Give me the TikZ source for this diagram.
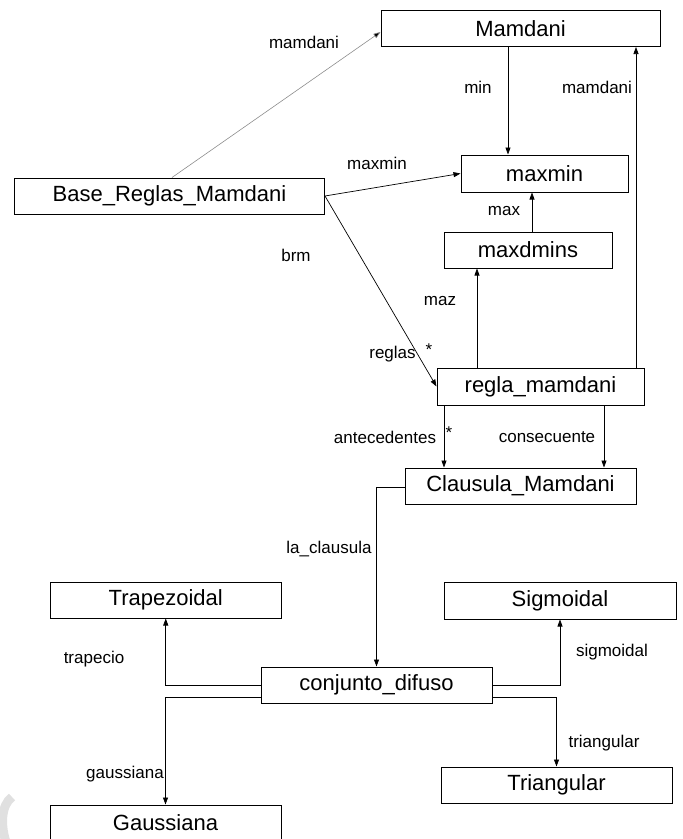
\documentclass[tikz,border=0pt]{standalone}
\usepackage{fontspec}
\setmainfont{Liberation Sans}
\usetikzlibrary{arrows.meta}
\begin{document}
\begin{tikzpicture}[x=1pt,y=-1pt,
  box/.style={draw=black,line width=1pt,minimum height=36pt,inner sep=0pt,
     font=\fontsize{22}{24}\selectfont},
  lbl/.style={font=\fontsize{17}{20}\selectfont,inner sep=0pt},
  arr/.style={draw=black,line width=0.7pt,-{Triangle[length=7pt,width=5pt]}},
  garr/.style={draw=black!45,line width=0.6pt,-{Triangle[length=7pt,width=5pt,fill=black]}}]
\useasboundingbox (0,0) rectangle (683,839);
\clip (0,0) rectangle (683,839);
% faint watermark
\draw[black!12,line width=9pt] (12,797) .. controls (1,805) and (0,826) .. (7,845);
% boxes
\node[box,minimum width=279pt] (Mamdani) at (520.5,28.5) {Mamdani};
\node[box,minimum width=167pt,minimum height=37pt] (maxmin) at (544.5,173.5) {maxmin};
\node[box,minimum width=310pt] (Base) at (169.5,196) {Base\_Reglas\_Mamdani};
\node[box,minimum width=168pt] (maxdmins) at (528,250) {maxdmins};
\node[box,minimum width=207pt,minimum height=37pt] (regla) at (540.5,386.5) {regla\_mamdani};
\node[box,minimum width=231pt] (Clausula) at (520.5,486) {Clausula\_Mamdani};
\node[box,minimum width=230.5pt] (Trapezoidal) at (165.75,600) {Trapezoidal};
\node[box,minimum width=232pt,minimum height=37pt] (Sigmoidal) at (560,600.5) {Sigmoidal};
\node[box,minimum width=231pt] (conjunto) at (376.5,685) {conjunto\_difuso};
\node[box,minimum width=231pt] (Triangular) at (556.5,785) {Triangular};
\node[box,minimum width=231pt] (Gaussiana) at (165.5,823) {Gaussiana};
% column coordinates
\coordinate (c508) at (508,0);
\coordinate (c636) at (636,0);
\coordinate (c477) at (477,0);
\coordinate (c532) at (532,0);
\coordinate (c444) at (444,0);
\coordinate (c604) at (604,0);
% connectors
\draw[garr] ([xshift=2.5pt]Base.north) -- ([yshift=-3.5pt]Mamdani.west);
\draw[arr] (Mamdani.south -| c508) -- (maxmin.north -| c508);
\draw[arr] (regla.north -| c636) -- (Mamdani.south -| c636);
\draw[arr] (Base.east) -- (maxmin.west);
\draw[arr] (Base.east) -- (regla.west);
\draw[arr] (regla.north -| c477) -- (maxdmins.south -| c477);
\draw[arr] (maxdmins.north -| c532) -- (maxmin.south -| c532);
\draw[arr] (regla.south -| c444) -- (Clausula.north -| c444);
\draw[arr] (regla.south -| c604) -- (Clausula.north -| c604);
\draw[arr] ([yshift=-1pt]Clausula.west) -| (conjunto.north);
\draw[arr] (conjunto.west) -| (Trapezoidal.south);
\draw[arr] ([yshift=-12pt]conjunto.west) -| (Gaussiana.north);
\draw[arr] (conjunto.east) -| (Sigmoidal.south);
\draw[arr] ([yshift=-12pt]conjunto.east) -| (Triangular.north);
% labels
\node[lbl] (l1) at (304,42) {mamdani};
\node[lbl] (l2) at (478,87) {min};
\node[lbl] (l3) at (597,87) {mamdani};
\node[lbl] (l4) at (377,163) {maxmin};
\node[lbl] (l5) at (504,211) {max};
\node[lbl] (l6) at (296,255) {brm};
\node[lbl] (l7) at (440,301) {maz};
\node[lbl] (l8) at (392.5,354) {reglas};
\node[lbl] (l9) at (429,350) {*};
\node[lbl] (l10) at (385,437) {antecedentes};
\node[lbl] (l11) at (449,433) {*};
\node[lbl] (l12) at (547,437) {consecuente};
\node[lbl] (l13) at (329,549) {la\_clausula};
\node[lbl] (l14) at (94,659) {trapecio};
\node[lbl] (l15) at (612,652) {sigmoidal};
\node[lbl] (l16) at (125,774) {gaussiana};
\node[lbl] (l17) at (604,743) {triangular};
\end{tikzpicture}
\end{document}
